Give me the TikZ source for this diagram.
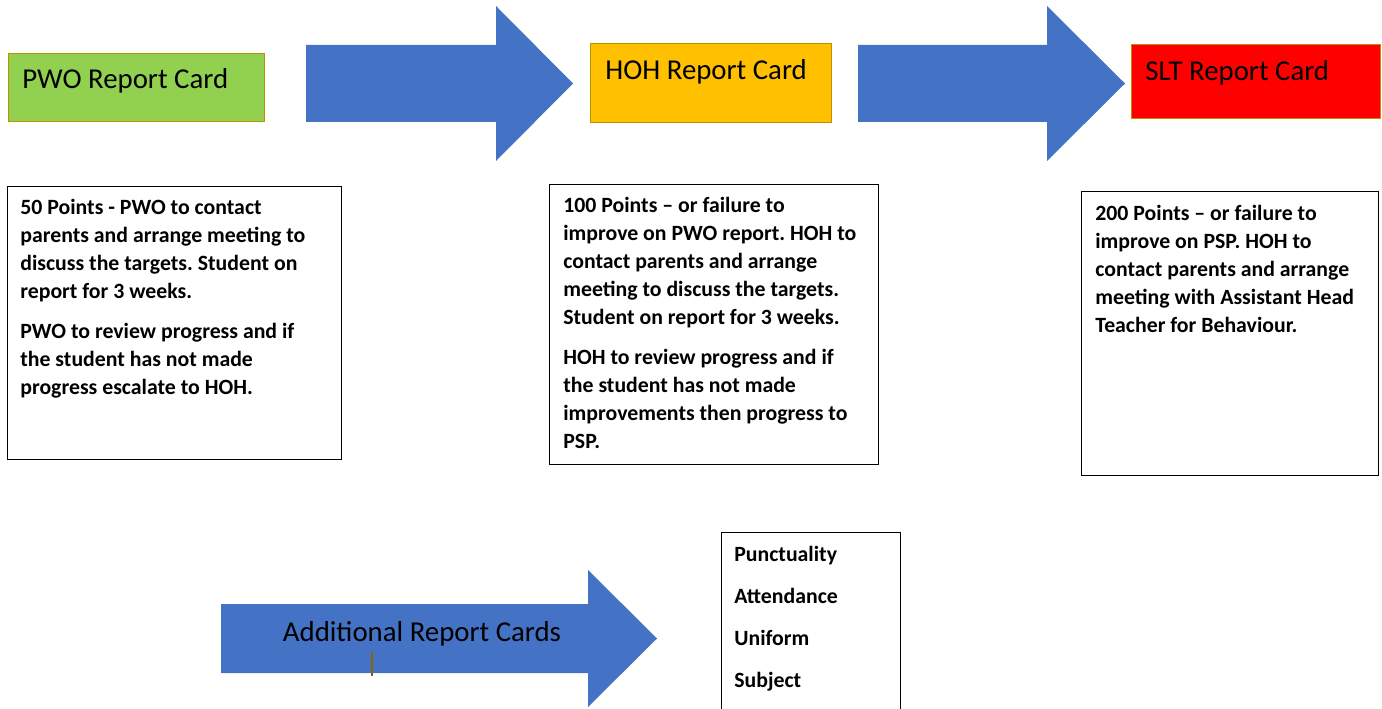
\documentclass[tikz,border=0pt]{standalone}
\usepackage{fontspec}
\setmainfont{Carlito}
\usepackage{xcolor}
\frenchspacing
\definecolor{arrowblue}{RGB}{68,114,196}
\definecolor{pwogreen}{RGB}{146,208,80}
\definecolor{hohorange}{RGB}{255,192,0}
\definecolor{sltred}{RGB}{255,0,0}
\definecolor{cardedge}{RGB}{191,144,0}
\tikzstyle{card}=[draw=cardedge, line width=.6pt, anchor=north west, inner sep=0pt]
\tikzstyle{infobox}=[draw=black, line width=.7pt, anchor=north west, inner sep=0pt]
\tikzset{cardtitle/.style={anchor=base west, inner sep=0pt, font=\fontsize{16.4}{19}\selectfont}}
\tikzset{infotext/.style={anchor=north west, inner sep=0pt, align=left, font=\frenchspacing\bfseries\fontsize{12.4}{15.9}\selectfont}}
\tikzset{listitem/.style={anchor=base west, inner sep=0pt, font=\bfseries\fontsize{12.4}{15.9}\selectfont}}

\begin{document}
\begin{tikzpicture}[x=0.02cm, y=-0.02cm]
  \useasboundingbox (0,0) rectangle (1382,709);

  %% Report cards
  \draw (8,53) node[card, fill=pwogreen, minimum width=5.12cm, minimum height=1.36cm] (pwo) {};
  \draw (590,43) node[card, fill=hohorange, minimum width=4.82cm, minimum height=1.58cm] (hoh) {};
  \draw (1131,44) node[card, fill=sltred, minimum width=4.98cm, minimum height=1.48cm] (slt) {};
  \draw (22,89) node[cardtitle] (pwotitle) {PWO Report Card};
  \draw (605,80) node[cardtitle] (hohtitle) {HOH Report Card};
  \draw (1145,81) node[cardtitle] (slttitle) {SLT Report Card};

  %% Arrows between cards
  \fill[arrowblue] (306,45) -- (496,45) -- (496,6) -- (573,83.5) -- (496,161) -- (496,122) -- (306,122) -- cycle;
  \fill[arrowblue] (858,45) -- (1047,45) -- (1047,6) -- (1125,83.5) -- (1047,161) -- (1047,122) -- (858,122) -- cycle;

  %% Descriptions
  \draw (7,186) node[infobox, minimum width=6.68cm, minimum height=5.46cm] (pwoinfo) {};
  \draw (549,184) node[infobox, minimum width=6.58cm, minimum height=5.60cm] (hohinfo) {};
  \draw (1081,191) node[infobox, minimum width=5.94cm, minimum height=5.68cm] (sltinfo) {};

  \draw (20,199) node[infotext] (pwotext) {50 Points - PWO to contact\\
    parents and arrange meeting to\\
    discuss the targets. Student on\\
    report for 3 weeks.\\[6.8pt]
    PWO to review progress and if\\
    the student has not made\\
    progress escalate to HOH.};
  \draw (563,197) node[infotext] (hohtext) {100 Points – or failure to\\
    improve on PWO report. HOH to\\
    contact parents and arrange\\
    meeting to discuss the targets.\\
    Student on report for 3 weeks.\\[6.8pt]
    HOH to review progress and if\\
    the student has not made\\
    improvements then progress to\\
    PSP.};
  \draw (1095,205) node[infotext] (slttext) {200 Points – or failure to\\
    improve on PSP. HOH to\\
    contact parents and arrange\\
    meeting with Assistant Head\\
    Teacher for Behaviour.};

  %% Additional cards
  \fill[arrowblue] (221,604) -- (588,604) -- (588,570) -- (657,638.5) -- (588,707) -- (588,673) -- (221,673) -- cycle;
  \draw (422,641) node[anchor=base, inner sep=0pt, font=\fontsize{16.4}{19}\selectfont] (extra) {Additional Report Cards};
  \draw[line width=.6pt, color=cardedge!70!black] (372,652) -- (372,676);

  \draw (721,532) node[infobox, minimum width=3.58cm, minimum height=4.2cm] (extralist) {};
  \draw (734,561) node[listitem] (punct) {Punctuality};
  \draw (734,603) node[listitem] (attend) {Attendance};
  \draw (734,645) node[listitem] (uniform) {Uniform};
  \draw (734,687) node[listitem] (subject) {Subject};
\end{tikzpicture}
\end{document}
